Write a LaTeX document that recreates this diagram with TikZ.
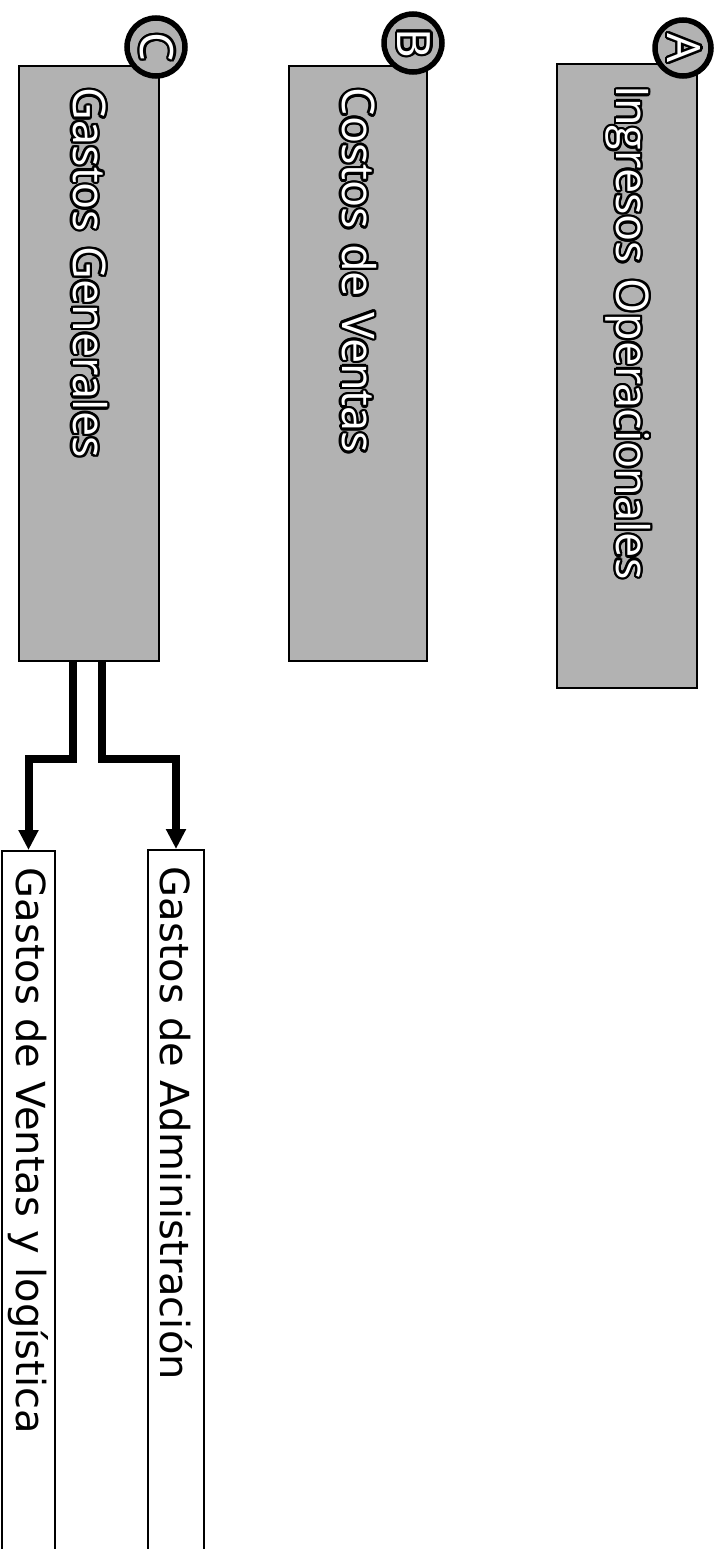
\documentclass[tikz,border=0pt]{standalone}
\usepackage{fontspec}
\setmainfont{DejaVu Sans}
\newfontfamily\panelfont{Open Sans}
\usepackage{contour}
\contourlength{2.4pt}
\definecolor{panelgray}{RGB}{178,178,178}
\usetikzlibrary{arrows.meta,positioning,calc}

\tikzset{
  panel/.style={draw=black, line width=1.6pt, fill=panelgray, rotate=-90,
        anchor=west, minimum height=140pt, inner xsep=22pt, align=left,
        font=\panelfont\fontsize{45}{52}\selectfont, text=white},
  badge/.style={circle, draw=black, line width=5.5pt, fill=panelgray,
        minimum size=56pt, inner sep=0pt, rotate=-90,
        font=\panelfont\fontsize{46}{48}\selectfont, text=white},
  account/.style={draw=black, line width=1.6pt, fill=white, rotate=-90,
        anchor=west, inner xsep=17pt, align=left,
        font=\fontsize{40}{48}\selectfont},
  link/.style={line width=8pt, -{Triangle[length=20pt,width=19pt]}}
}

\begin{document}
\begin{tikzpicture}[x=1pt, y=1pt]
  \clip (0,0) rectangle (723,-1549);
  \useasboundingbox (0,0) rectangle (723,-1549);

  % main groups
  \node[panel, text width=580pt] (ingresos) at (627,-63) {\contour{black}{Ingresos Operacionales}};
  \node[panel, text width=551pt, minimum height=138pt] (costos) at (358,-65) {\contour{black}{Costos de Ventas}};
  \node[panel, text width=551pt] (gastos) at (89,-65) {\contour{black}{Gastos Generales}};

  % letters
  \node[badge] (badgeA) at (683,-48) {\contour{black}{A}};
  \node[badge, minimum size=58pt] (badgeB) at (413,-43) {\contour{black}{B}};
  \node[badge, minimum size=58pt] (badgeC) at (156,-47) {\contour{black}{C}};

  % sub accounts
  \node[account, text width=726pt, minimum height=53pt] (ventas) at (28.5,-850) {Gastos de Ventas y log\'istica};
  \node[account, text width=726pt, minimum height=56pt] (admin) at (176,-849) {Gastos de Administraci\'on};

  \draw[link] (gastos.east) ++(-16,0) -- ++(0,-97) -| (ventas.west);
  \draw[link] (gastos.east) ++(13,0) -- ++(0,-97) -| (admin.west);
\end{tikzpicture}
\end{document}
